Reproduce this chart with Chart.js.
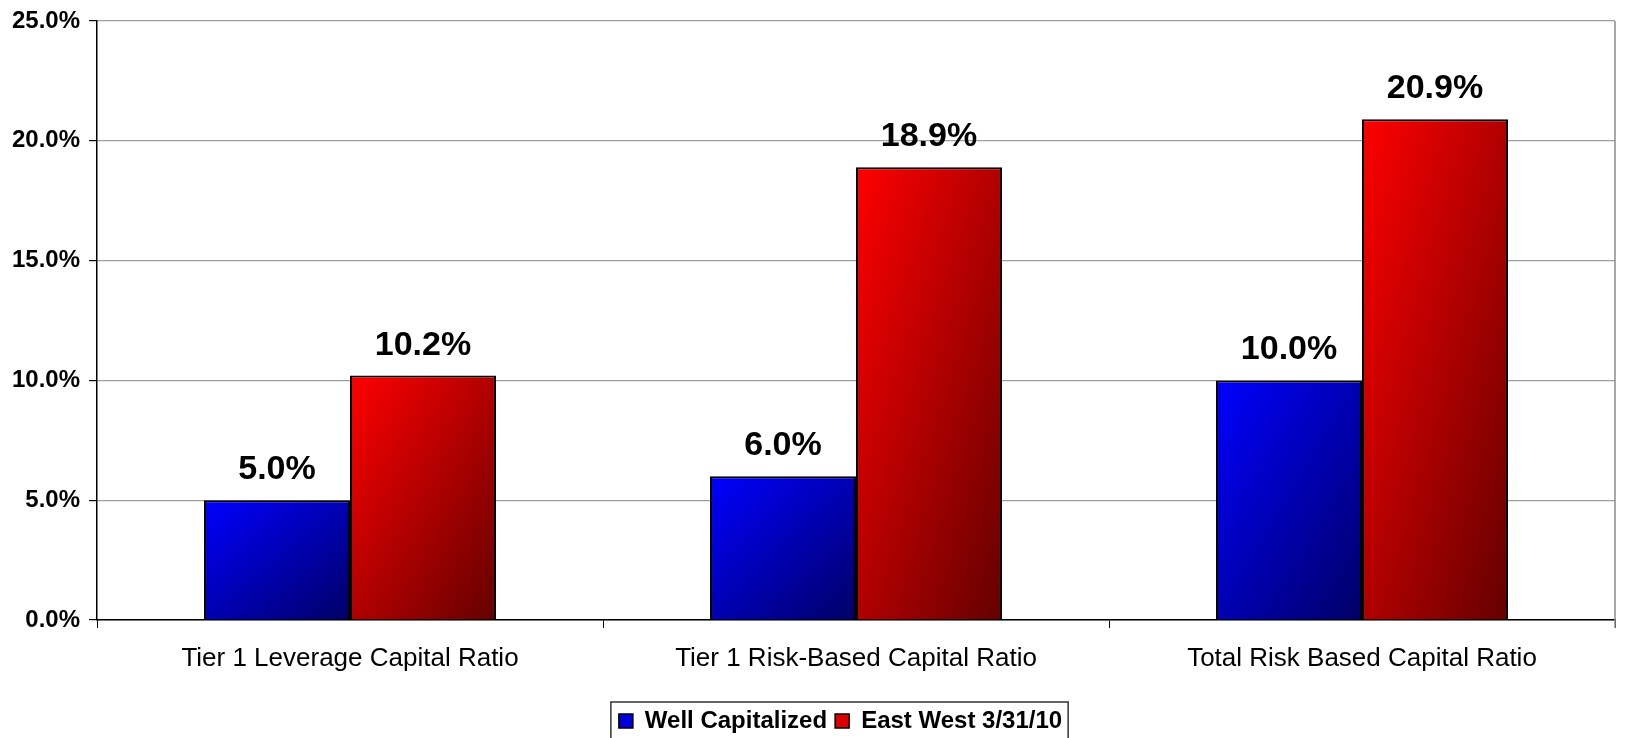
<!DOCTYPE html>
<html>
<head>
<meta charset="utf-8">
<script src="https://cdn.jsdelivr.net/npm/chart.js@4/dist/chart.umd.min.js"></script>
<style>
  html, body { margin: 0; padding: 0; background: #fff; }
  #wrap { width: 1644px; height: 738px; }
</style>
</head>
<body>
<div id="wrap"><canvas id="capitalChart"></canvas></div>
<script>
// chart data
const categories = ['Tier 1 Leverage Capital Ratio', 'Tier 1 Risk-Based Capital Ratio', 'Total Risk Based Capital Ratio'];
const seriesNames = ['Well Capitalized', 'East West 3/31/10'];
const wellCapitalized = [5.0, 6.0, 10.0];
const eastWest = [10.2, 18.9, 20.9];
const yMin = 0, yMax = 25, yStep = 5;

const FONT = 'Arial, "Liberation Sans", sans-serif';

// diagonal gradient, light top-left to dark bottom-right, like the old Excel fill
function barGradient(ctx, el, from, to) {
    const w = el.width, h = Math.abs(el.base - el.y);
    const left = el.x - w / 2, top = Math.min(el.y, el.base);
    const k = 2 * w * h / (w * w + h * h);
    const g = ctx.createLinearGradient(left, top, left + h * k, top + w * k);
    g.addColorStop(0, from);
    g.addColorStop(1, to);
    return g;
}

const gradientPlugin = {
    id: 'gradientFill',
    beforeDatasetsDraw(chart) {
        chart.data.datasets.forEach((ds, i) => {
            chart.getDatasetMeta(i).data.forEach(el => {
                el.options.backgroundColor = barGradient(chart.ctx, el, ds.gradFrom, ds.gradTo);
            });
        });
    }
};

const valueLabels = {
    id: 'valueLabels',
    afterDatasetsDraw(chart) {
        const ctx = chart.ctx;
        ctx.save();
        ctx.font = 'bold 34px ' + FONT;
        ctx.fillStyle = '#000';
        ctx.textAlign = 'center';
        ctx.textBaseline = 'alphabetic';
        chart.data.datasets.forEach((ds, i) => {
            chart.getDatasetMeta(i).data.forEach((el, j) => {
                ctx.fillText(ds.data[j].toFixed(1) + '%', el.x, el.y - 21);
            });
        });
        ctx.restore();
    }
};

// legend in the original sits a bit right of centre and lower
const legendShift = {
    id: 'legendShift',
    afterLayout(chart) {
        const lg = chart.legend;
        if (!lg) return;
        lg.left += 33; lg.right += 33;
        lg.top += 5; lg.bottom += 5;
    }
};

// frame: gray right edge of plot, box round the legend
const framePlugin = {
    id: 'frame',
    afterDraw(chart) {
        const ctx = chart.ctx;
        const a = chart.chartArea;
        ctx.save();
        ctx.strokeStyle = '#8c8c8c';
        ctx.lineWidth = 1.5;
        ctx.beginPath();
        ctx.moveTo(a.right, a.top);
        ctx.lineTo(a.right, a.bottom + 8);
        ctx.stroke();

        const lg = chart.legend;
        if (lg && lg.legendHitBoxes && lg.legendHitBoxes.length) {
            const boxes = lg.legendHitBoxes;
            const x0 = Math.min(...boxes.map(b => b.left)) - 8;
            const x1 = Math.max(...boxes.map(b => b.left + b.width)) + 6;
            const y0 = Math.min(...boxes.map(b => b.top)) - 7;
            ctx.strokeStyle = '#333';
            ctx.lineWidth = 1.5;
            ctx.strokeRect(x0, y0, x1 - x0, chart.height - y0 + 2);
        }
        ctx.restore();
    }
};

new Chart(document.getElementById('capitalChart'), {
    type: 'bar',
    data: {
        labels: categories,
        datasets: [{
            label: seriesNames[0],
            data: wellCapitalized,
            backgroundColor: () => '#0000ff',
            gradFrom: '#0000ff',
            gradTo: '#000066',
            legendColor: '#0000dd',
            borderColor: '#000',
            borderWidth: 2,
            categoryPercentage: 0.577,
            barPercentage: 1.0
        }, {
            label: seriesNames[1],
            data: eastWest,
            backgroundColor: () => '#ff0000',
            gradFrom: '#ff0000',
            gradTo: '#640000',
            legendColor: '#dd0000',
            borderColor: '#000',
            borderWidth: 2,
            categoryPercentage: 0.577,
            barPercentage: 1.0
        }]
    },
    options: {
        responsive: true,
        maintainAspectRatio: false,
        animation: false,
        layout: { padding: { top: 19, right: 29, left: 0, bottom: 0 } },
        plugins: {
            tooltip: { enabled: false },
            legend: {
                position: 'bottom',
                labels: {
                    color: '#000',
                    font: { family: FONT, size: 24, weight: 'bold' },
                    boxWidth: 14,
                    boxHeight: 14,
                    padding: 8,
                    generateLabels(chart) {
                        return chart.data.datasets.map((ds, i) => ({
                            text: ds.label,
                            fillStyle: ds.legendColor,
                            strokeStyle: '#000',
                            lineWidth: 1.5,
                            fontColor: '#000',
                            datasetIndex: i
                        }));
                    }
                }
            }
        },
        scales: {
            x: {
                grid: {
                    offset: true,
                    drawOnChartArea: false,
                    drawTicks: true,
                    tickLength: 8,
                    color: '#000'
                },
                border: { color: '#000', width: 1.5 },
                ticks: {
                    color: '#000',
                    font: { family: FONT, size: 26 },
                    padding: 15,
                    maxRotation: 0
                },
                afterFit(scale) { scale.height = 76; }
            },
            y: {
                min: yMin,
                max: yMax,
                ticks: {
                    stepSize: yStep,
                    color: '#000',
                    font: { family: FONT, size: 24, weight: 'bold', lineHeight: 1.0 },
                    padding: 9,
                    callback: v => v.toFixed(1) + '%'
                },
                grid: {
                    color: '#a0a0a0',
                    lineWidth: 1.2,
                    tickLength: 8,
                    tickColor: '#000'
                },
                border: { color: '#000', width: 1.5 },
                afterFit(scale) { scale.width = 97; }
            }
        }
    },
    plugins: [legendShift, gradientPlugin, valueLabels, framePlugin]
});
</script>
</body>
</html>
